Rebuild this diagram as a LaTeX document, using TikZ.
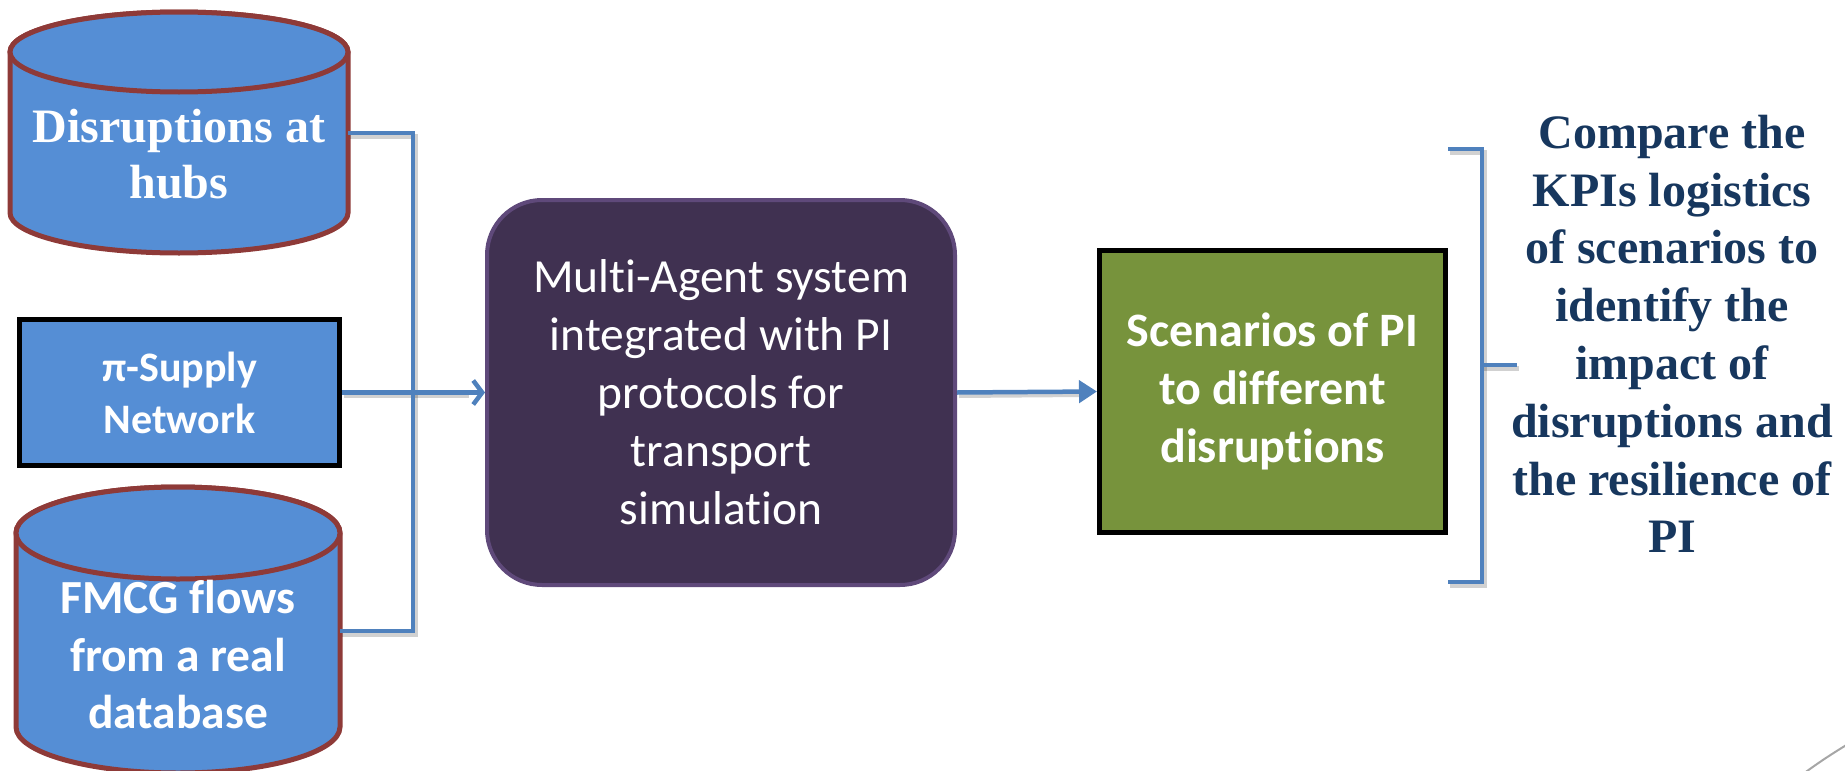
\documentclass[tikz,border=0pt]{standalone}
\usepackage{fontspec}
\setmainfont{Carlito}[Ligatures=NoCommon]
\newfontfamily\tnr{Liberation Serif}
\usetikzlibrary{arrows.meta,calc}
\definecolor{cylblue}{HTML}{558ED5}
\definecolor{cylborder}{HTML}{8E3A38}
\definecolor{lineblue}{HTML}{4F81BD}
\definecolor{mainfill}{HTML}{403151}
\definecolor{mainborder}{HTML}{5F497A}
\definecolor{greenfill}{HTML}{77933C}
\definecolor{navy}{HTML}{17375E}
\newcommand{\mycyl}[5]{% cx, rx, top y, bottom y, ry
  \filldraw[fill=cylblue, draw=cylborder, line width=5pt]
    (#1-#2,#3) -- (#1-#2,#4) arc[start angle=180, end angle=0, x radius=#2, y radius=#5]
    -- (#1+#2,#3) arc[start angle=0, end angle=-180, x radius=#2, y radius=#5] -- cycle;
  \filldraw[fill=cylblue, draw=cylborder, line width=5pt]
    (#1,#3) ellipse[x radius=#2, y radius=#5];
}
\begin{document}
\begin{tikzpicture}[x=1pt,y=-1pt,
  conn/.style={draw=lineblue, line width=4.5pt},
  shadowline/.style={draw=black, opacity=0.18, line width=5pt, transform canvas={xshift=2pt,yshift=-3pt}},
  cyltext/.style={text=white, align=center, inner sep=0pt},
  pibox/.style={draw=black, line width=5pt, fill=cylblue, text=white, align=center,
    font=\bfseries\fontsize{42}{52}\selectfont, minimum width=320pt, minimum height=146pt, inner sep=0pt},
  mainbox/.style={draw=mainborder, line width=4pt, fill=mainfill, text=white, align=center,
    rounded corners=55pt, font=\fontsize{47.5}{58}\selectfont, minimum width=468pt, minimum height=385pt, inner sep=0pt},
  greenbox/.style={draw=black, line width=5pt, fill=greenfill, text=white, align=center,
    font=\bfseries\fontsize{48}{58}\selectfont, minimum width=346pt, minimum height=282pt, inner sep=0pt},
  cmptext/.style={text=navy, align=center, font=\tnr\bfseries\fontsize{48}{57.8}\selectfont, inner sep=0pt}
]
\useasboundingbox (0,0) rectangle (1845,771);

% cylinders
\mycyl{179}{169}{52}{213}{40}
\mycyl{178}{162}{533}{727}{46}
\node[cyltext, font=\tnr\bfseries\fontsize{48}{56}\selectfont, minimum width=338pt] (cyl1) at (179,154) {Disruptions at\\hubs};
\node[cyltext, font=\bfseries\fontsize{47.5}{57.5}\selectfont, minimum width=324pt] (cyl3) at (178,655) {FMCG flows\\from a real\\database};

% boxes
\node[pibox] (pi) at (179.5,392.5) {π-Supply\\Network};
\node[mainbox] (main) at (721,392.5) {Multi-Agent system\\integrated with PI\\protocols for\\transport\\simulation};
\node[greenbox] (green) at (1272.5,391.5) {Scenarios of PI\\to different\\disruptions};
\node[cmptext] (cmp) at (1672,334) {Compare the\\KPIs logistics\\of scenarios to\\identify the\\impact of\\disruptions and\\the resilience of\\PI};

\coordinate (bus) at (413,392.5);
\coordinate (bt) at (1448,149);
\coordinate (bb) at (1448,582);
\coordinate (bm) at (1482,365);
\coordinate (btick) at (1517,365);

% shadows
\draw[shadowline] ([yshift=21pt]cyl1.east) -| (bus);
\draw[shadowline] ([yshift=24pt]cyl3.east) -| (bus);
\draw[shadowline] (pi.east) -- ([xshift=-18pt]main.west);
\draw[shadowline] (main.east) -- ([xshift=-16pt]green.west);
\draw[shadowline] (bt) -| (bm) |- (bb);
\draw[shadowline] (bm) -- (btick);

% connectors
\draw[conn] ([yshift=21pt]cyl1.east) -| (bus);
\draw[conn] ([yshift=24pt]cyl3.east) -| (bus);
\draw[conn, -{Straight Barb[length=9pt,width=24pt,line width=4.5pt]}] (pi.east) -- (main.west);
\draw[conn, -{Triangle[length=18pt,width=22pt]}] (main.east) -- (green.west);
\draw[conn] (bt) -| (bm) |- (bb);
\draw[conn] (bm) -- (btick);

% slide decoration
\draw[gray!70, line width=2pt] (1803,774) .. controls (1818,763) and (1830,755) .. (1848,744);
\end{tikzpicture}
\end{document}
